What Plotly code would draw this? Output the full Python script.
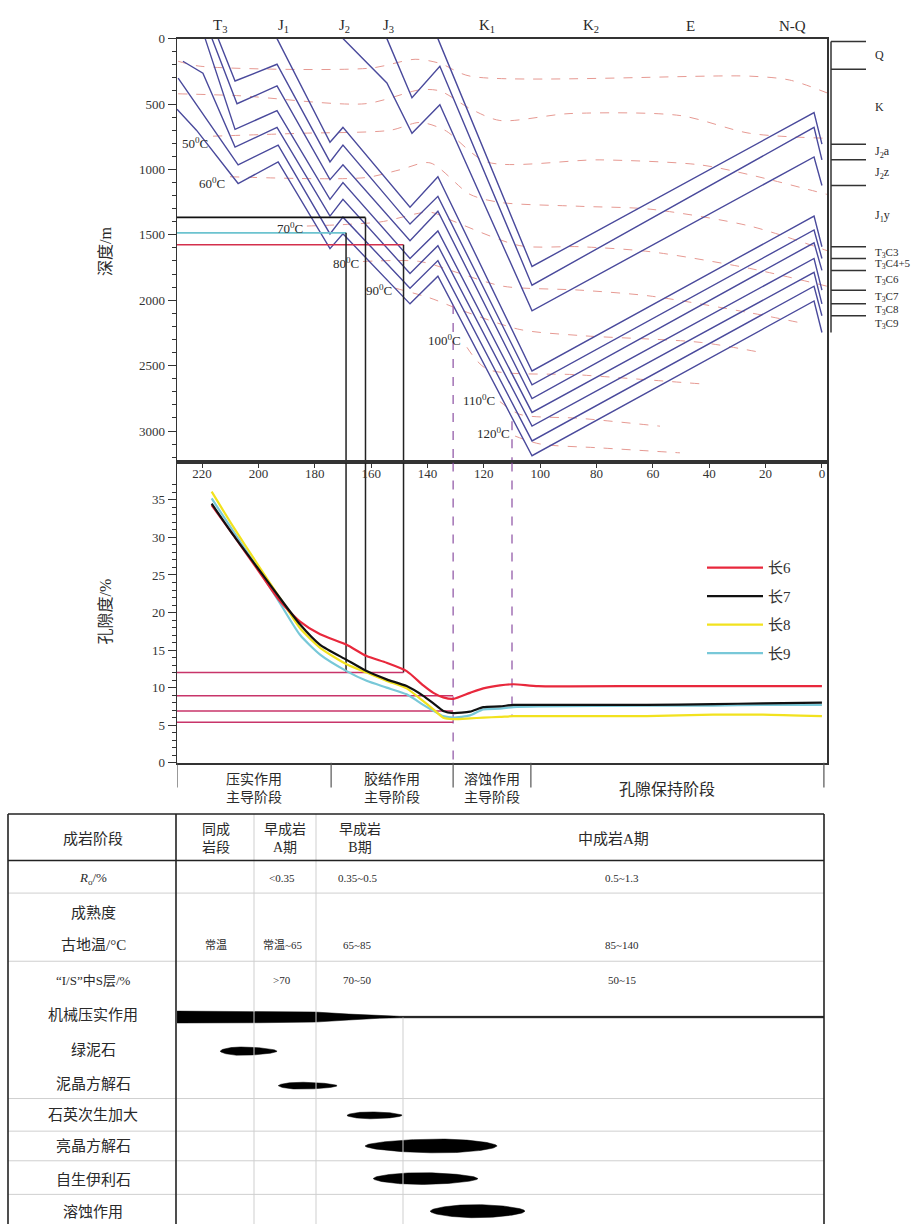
import numpy as np
import plotly.graph_objects as go

W, H = 915, 1232
SERIF = "Liberation Serif, Noto Sans CJK SC, serif"

# ---------------- data ----------------
period_labels = ["T<sub>3</sub>", "J<sub>1</sub>", "J<sub>2</sub>", "J<sub>3</sub>",
                 "K<sub>1</sub>", "K<sub>2</sub>", "E", "N-Q"]
period_mid_ma = [213.6, 191.0, 169.6, 154.0, 119.0, 82.0, 46.5, 10.6]
age_range = [228.9, -1.8]
depth_range = [3240, 0]
por_range = [0, 40.0]
age_ticks = [220, 200, 180, 160, 140, 120, 100, 80, 60, 40, 20, 0]

# burial history (age Ma, depth m) of each horizon
bur_J2a_age = [136.3, 102.9, 2.8, 0.0]
bur_J2a_dep = [0, 1742, 566, 807]
bur_J2z_age = [154.4, 145.5, 135.6, 102.9, 2.8, 0.0]
bur_J2z_dep = [0, 452, 211, 1885, 679, 927]
bur_J1y_age = [170.0, 154.4, 145.5, 135.6, 102.9, 2.8, 0.0]
bur_J1y_dep = [0, 339, 724, 505, 2081, 905, 1123]
bur_C3_age = [193.4, 174.6, 170.0, 146.2, 136.3, 102.9, 2.8, 0.0]
bur_C3_dep = [0, 792, 679, 1289, 1056, 2541, 1357, 1591]
bur_C45_age = [214.3, 208.3, 193.4, 174.6, 170.0, 146.2, 136.3, 102.9, 2.8, 0.0]
bur_C45_dep = [0, 324, 196, 943, 814, 1418, 1206, 2647, 1463, 1681]
bur_C6_age = [216.5, 207.6, 193.4, 174.6, 170.0, 146.2, 136.3, 102.9, 2.8, 0.0]
bur_C6_dep = [0, 498, 362, 1078, 965, 1546, 1320, 2752, 1561, 1772]
bur_C7_age = [218.9, 208.3, 193.4, 174.6, 170.0, 146.2, 136.3, 102.9, 2.8, 0.0]
bur_C7_dep = [0, 694, 550, 1229, 1101, 1681, 1470, 2858, 1681, 1923]
bur_C8_age = [226.8, 219.7, 208.3, 193.4, 174.6, 170.0, 146.2, 136.3, 102.9, 2.8, 0.0]
bur_C8_dep = [173, 264, 829, 679, 1357, 1229, 1795, 1583, 2963, 1787, 2028]
bur_C9_age = [228.5, 222.5, 207.2, 193.0, 174.6, 170.0, 146.2, 136.3, 102.9, 2.8, 0.0]
bur_C9_dep = [302, 490, 965, 814, 1493, 1365, 1908, 1697, 3076, 1893, 2119]
bur_base_age = [228.9, 222.0, 207.2, 193.0, 174.6, 170.0, 146.2, 136.3, 102.9, 2.8, 0.0]
bur_base_dep = [540, 700, 1108, 943, 1606, 1493, 2028, 1817, 3189, 2006, 2247]

# isotherms (age Ma, depth m)
iso30_age = [228.5, 220.7, 160.4, 144.4, 135.6, 124.9, 25.6, 11.4, -1.8]
iso30_dep = [173, 211, 226, 158, 189, 287, 287, 317, 415]
iso40_age = [228.5, 206.5, 162.2, 142.7, 135.6, 124.9, 114.3, 89.4, 50.4, 25.6, -1.8]
iso40_dep = [422, 437, 498, 392, 400, 535, 626, 573, 588, 724, 762]
iso50_age = [216.1, 185.2, 153.3, 142.7, 133.8, 118.9, 78.8, 43.3, 25.6, -1.8]
iso50_dep = [746, 724, 701, 641, 701, 943, 927, 965, 1041, 1191]
iso60_age = [210.1, 162.2, 149.8, 139.1, 124.9, 114.3, 85.9, 61.0, 25.6, -1.8]
iso60_dep = [1056, 1063, 1003, 950, 1191, 1252, 1282, 1304, 1433, 1621]
iso70_age = [182.8, 156.9, 139.1, 130.9, 107.2, 85.9, 61.0, 25.6, -1.8]
iso70_dep = [1433, 1402, 1327, 1395, 1583, 1591, 1629, 1757, 1893]
iso80_age = [162.9, 142.7, 128.5, 113.2, 85.9, 61.0, 25.6, 7.8]
iso80_dep = [1704, 1704, 1795, 1893, 1923, 1968, 2096, 2172]
iso90_age = [151.5, 139.1, 127.4, 107.2, 85.9, 43.3, 22.0]
iso90_dep = [1908, 1983, 2081, 2224, 2270, 2322, 2398]
iso100_age = [126.0, 118.9, 85.9, 43.3]
iso100_dep = [2360, 2526, 2571, 2639]
iso110_age = [114.3, 107.2, 85.9, 57.5]
iso110_dep = [2775, 2873, 2903, 2963]
iso120_age = [108.9, 100.1, 78.8, 50.4]
iso120_dep = [3039, 3099, 3129, 3167]

iso_label_text = ["50<sup>0</sup>C", "60<sup>0</sup>C", "70<sup>0</sup>C", "80<sup>0</sup>C",
                  "90<sup>0</sup>C", "100<sup>0</sup>C", "110<sup>0</sup>C", "120<sup>0</sup>C"]
iso_label_age = [222.5, 216.5, 188.8, 168.9, 157.2, 133.8, 121.7, 116.4]
iso_label_dep = [799, 1101, 1448, 1719, 1923, 2307, 2760, 3016]

# present-day formation tops (m)
formation_names = ["Q", "K", "J<sub>2</sub>a", "J<sub>2</sub>z", "J<sub>1</sub>y", "T<sub>3</sub>C3",
                   "T<sub>3</sub>C4+5", "T<sub>3</sub>C6", "T<sub>3</sub>C7", "T<sub>3</sub>C8", "T<sub>3</sub>C9"]
formation_tops = [23, 234, 807, 927, 1123, 1591, 1681, 1772, 1923, 2028, 2119]
formation_base = 2247

# end of compaction markers: burial depth (m), age (Ma)
marker_depth = [1367, 1485, 1576]
marker_age = [162.0, 168.9, 148.5]
marker_por = 12.0

# porosity thresholds (%), and age they are drawn to
por_cut_value = [12.0, 8.9, 6.9, 5.4]
por_cut_age = [148.5, 130.9, 130.9, 130.9]

# dashed event lines
event_age = [130.9, 110.0]
event_top_depth = [2036, 2925]
event_por_bottom = [0.0, 6.2]

# porosity evolution (age Ma, porosity %)
por_age = [216.6, 208.9, 200.6, 192.3, 185.2, 178.1, 168.7, 161.6, 154.5, 147.4, 141.5, 137.9,
           134.4, 130.8, 124.9, 120.2, 114.3, 109.5, 100.7, 62.2, 38.6, 20.9, 0.0]
por_chang6 = [34.3, 30.3, 25.9, 21.5, 18.8, 17.1, 15.7, 14.2, 13.3, 12.2, 10.3, 9.3,
              8.7, 8.5, 9.3, 9.9, 10.3, 10.45, 10.2, 10.2, 10.2, 10.2, 10.2]
por_chang7 = [34.5, 30.3, 26.1, 21.9, 18.4, 15.7, 13.7, 12.2, 11.1, 10.2, 8.9, 7.9,
              6.9, 6.6, 6.8, 7.4, 7.5, 7.7, 7.7, 7.7, 7.8, 7.9, 8.0]
por_chang8 = [36.1, 31.4, 26.6, 21.9, 17.9, 15.3, 13.1, 12.0, 10.9, 9.9, 8.2, 7.1,
              6.0, 5.8, 5.9, 6.0, 6.1, 6.2, 6.2, 6.2, 6.4, 6.4, 6.2]
por_chang9 = [35.2, 30.8, 26.1, 21.2, 17.0, 14.4, 12.2, 10.9, 10.0, 9.1, 7.7, 6.9,
              6.2, 6.0, 6.3, 7.1, 7.2, 7.4, 7.5, 7.6, 7.6, 7.7, 7.7]
por_names = ["长6", "长7", "长8", "长9"]

# porosity evolution stages (boundary ages)
stage_bounds = [228.9, 174.2, 130.9, 103.3, -0.7]
stage_names = ["压实作用<br>主导阶段", "胶结作用<br>主导阶段", "溶蚀作用<br>主导阶段", "孔隙保持阶段"]
stage_label_age = [201.5, 152.5, 117.1, 55.0]

# diagenetic table
table_rows = ["成岩阶段", "<i>R</i><sub>o</sub>/%", "成熟度", "古地温/°C", "“I/S”中S层/%", "机械压实作用",
              "绿泥石", "泥晶方解石", "石英次生加大", "亮晶方解石", "自生伊利石", "溶蚀作用"]
stage_cols = ["同成<br>岩段", "早成岩<br>A期", "早成岩<br>B期", "中成岩A期"]
ro_values = ["", "<0.35", "0.35~0.5", "0.5~1.3"]
temp_values = ["常温", "常温~65", "65~85", "85~140"]
is_values = ["", ">70", "70~50", "50~15"]

comp_age = [228.9, 200.0, 180.0, 168.0, 157.0, 150.0, -0.7]
comp_intensity = [1.0, 0.96, 0.85, 0.5, 0.2, 0.13, 0.13]
lens_names = ["绿泥石", "泥晶方解石", "石英次生加大", "亮晶方解石", "自生伊利石", "溶蚀作用"]
lens_start = [213.6, 193.0, 168.6, 162.2, 159.3, 139.1]
lens_end = [193.4, 172.1, 149.0, 115.3, 122.1, 105.4]
lens_peak = [206.5, 185.2, 160.4, 135.6, 142.7, 123.1]
lens_intensity = [0.6, 0.5, 0.5, 1.0, 0.85, 0.95]

# ---------------- helpers (layout only) ----------------
def fx(p):
    return p / W


def fy(p):
    return 1 - p / H


BLUE = "#4a4a9c"
ISO = "#e69992"
fig = go.Figure()

burials = [(bur_J2a_age, bur_J2a_dep), (bur_J2z_age, bur_J2z_dep), (bur_J1y_age, bur_J1y_dep),
           (bur_C3_age, bur_C3_dep), (bur_C45_age, bur_C45_dep), (bur_C6_age, bur_C6_dep),
           (bur_C7_age, bur_C7_dep), (bur_C8_age, bur_C8_dep), (bur_C9_age, bur_C9_dep),
           (bur_base_age, bur_base_dep)]
isos = [(iso30_age, iso30_dep), (iso40_age, iso40_dep), (iso50_age, iso50_dep), (iso60_age, iso60_dep),
        (iso70_age, iso70_dep), (iso80_age, iso80_dep), (iso90_age, iso90_dep), (iso100_age, iso100_dep),
        (iso110_age, iso110_dep), (iso120_age, iso120_dep)]

for a, d in isos:
    fig.add_trace(go.Scatter(x=a, y=d, mode="lines", line=dict(color=ISO, width=1, dash="dash", shape="spline", smoothing=0.8),
                             showlegend=False, hoverinfo="skip", xaxis="x", yaxis="y"))
for a, d in burials:
    fig.add_trace(go.Scatter(x=a, y=d, mode="lines", line=dict(color=BLUE, width=1.4),
                             showlegend=False, hoverinfo="skip", xaxis="x", yaxis="y"))

# end-of-compaction markers
marker_colors = ["#111111", "#6cc3cf", "#d4304c"]
for dep, age, col in zip(marker_depth, marker_age, marker_colors):
    fig.add_trace(go.Scatter(x=[age_range[0], age], y=[dep, dep], mode="lines", line=dict(color=col, width=1.6),
                             showlegend=False, hoverinfo="skip", xaxis="x", yaxis="y"))
for dep, age in zip(marker_depth, marker_age):
    fig.add_trace(go.Scatter(x=[age, age], y=[dep, depth_range[0]], mode="lines", line=dict(color="#222", width=1.5),
                             showlegend=False, hoverinfo="skip", xaxis="x", yaxis="y"))
    fig.add_trace(go.Scatter(x=[age, age], y=[por_range[1], marker_por], mode="lines", line=dict(color="#222", width=1.5),
                             showlegend=False, hoverinfo="skip", xaxis="x2", yaxis="y2"))

# dashed event lines
for age, dtop, pbot in zip(event_age, event_top_depth, event_por_bottom):
    fig.add_trace(go.Scatter(x=[age, age], y=[dtop, depth_range[0]], mode="lines",
                             line=dict(color="#8a4ea2", width=1.2, dash="dash"),
                             showlegend=False, hoverinfo="skip", xaxis="x", yaxis="y"))
    fig.add_trace(go.Scatter(x=[age, age], y=[por_range[1], pbot], mode="lines",
                             line=dict(color="#8a4ea2", width=1.2, dash="dash"),
                             showlegend=False, hoverinfo="skip", xaxis="x2", yaxis="y2"))

# porosity thresholds
for v, a in zip(por_cut_value, por_cut_age):
    fig.add_trace(go.Scatter(x=[age_range[0], a], y=[v, v], mode="lines", line=dict(color="#c8346a", width=1.5),
                             showlegend=False, hoverinfo="skip", xaxis="x2", yaxis="y2"))

# porosity curves
por_colors = ["#e8283c", "#111111", "#f2e21e", "#78c8d8"]
por_series = [por_chang6, por_chang7, por_chang8, por_chang9]
draw_order = [3, 2, 0, 1]
for i in draw_order:
    fig.add_trace(go.Scatter(x=por_age, y=por_series[i], mode="lines", name=por_names[i],
                             line=dict(color=por_colors[i], width=2.2, shape="spline", smoothing=0.6),
                             legendgroup=por_names[i], legendrank=i + 1, showlegend=True,
                             hoverinfo="skip", xaxis="x2", yaxis="y2"))

# diagenesis table lenses
ROW_Y = {"机械压实作用": 205.5, "绿泥石": 240, "泥晶方解石": 275, "石英次生加大": 305,
         "亮晶方解石": 336, "自生伊利石": 369, "溶蚀作用": 402}
MAX_T = 14.0
ca = np.array(comp_age)
ci = np.array(comp_intensity) * 12.0
cy = ROW_Y["机械压实作用"]
fig.add_trace(go.Scatter(x=np.concatenate([ca, ca[::-1]]), y=np.concatenate([cy - ci / 2, (cy + ci / 2)[::-1]]),
                         mode="lines", fill="toself", fillcolor="#000", line=dict(color="#000", width=0.5),
                         showlegend=False, hoverinfo="skip", xaxis="x3", yaxis="y3"))
for nm, t0, t1, tp, it in zip(lens_names, lens_start, lens_end, lens_peak, lens_intensity):
    u = np.linspace(0, 1, 80)
    t = t0 + (t1 - t0) * u
    up = (tp - t0) / (t1 - t0)
    s = np.where(u < up, 0.5 * u / up, 0.5 + 0.5 * (u - up) / (1 - up))
    h = it * MAX_T / 2 * np.sin(np.pi * s) ** 0.55
    c = ROW_Y[nm]
    fig.add_trace(go.Scatter(x=np.concatenate([t, t[::-1]]), y=np.concatenate([c - h, (c + h)[::-1]]),
                             mode="lines", fill="toself", fillcolor="#000", line=dict(color="#000", width=0.5),
                             showlegend=False, hoverinfo="skip", xaxis="x3", yaxis="y3"))

shapes = []
ann = []


def note(x, y, text, size, xref="paper", yref="paper", xanchor="center", **kw):
    ann.append(dict(x=x, y=y, xref=xref, yref=yref, text=text, showarrow=False, xanchor=xanchor,
                    yanchor="middle", font=dict(family=SERIF, size=size, color="#2a2a2a"), **kw))


# period labels
for lab, a in zip(period_labels, period_mid_ma):
    note(a, fy(19), lab, 15, xref="x")

# isotherm labels
for lab, a, d in zip(iso_label_text, iso_label_age, iso_label_dep):
    note(a, d, lab, 13, xref="x", yref="y")

# formation bar on the right
shapes.append(dict(type="line", xref="paper", yref="y", x0=fx(831), x1=fx(831), y0=formation_tops[0],
                   y1=formation_base, line=dict(color="#333", width=1.5)))
for top in formation_tops:
    shapes.append(dict(type="line", xref="paper", yref="y", x0=fx(831), x1=fx(866), y0=top, y1=top,
                       line=dict(color="#333", width=1.5)))
bounds = formation_tops + [formation_base]
for i, nm in enumerate(formation_names):
    mid = (bounds[i] + bounds[i + 1]) / 2
    note(fx(873), mid, nm, 11 if i >= 5 else 12, yref="y", xanchor="left")

# axis titles
note(fx(106), fy(248), "深度/m", 16, textangle=-90)
note(fx(106), fy(612), "孔隙度/%", 16, textangle=-90)

# stages below porosity
for b in stage_bounds:
    shapes.append(dict(type="line", xref="x2", yref="paper", x0=b, x1=b, y0=fy(765), y1=fy(790),
                       line=dict(color="#555", width=1.2)))
for nm, a in zip(stage_names, stage_label_age):
    one = "<br>" not in nm
    note(a, fy(792 if one else 791), nm, 16 if one else 14, xref="x2")

# table frame
TOP, BOT, L, R = 817, 1232, 8, 824
DARK = dict(color="#222", width=1.6)
LIGHT = dict(color="#cfcfcf", width=1)


def pline(x0, y0, x1, y1, ln):
    shapes.append(dict(type="line", xref="paper", yref="paper", x0=fx(x0), x1=fx(x1), y0=fy(y0), y1=fy(y1), line=ln))


for yy in [897, 966, 1105, 1138, 1168, 1202]:
    pline(L, yy, R, yy, LIGHT)
for xx in [254, 316]:
    pline(xx, TOP, xx, BOT, LIGHT)
pline(403, 1023, 403, BOT, LIGHT)
pline(L, TOP, R, TOP, DARK)
pline(L, 864, R, 864, DARK)
pline(L, TOP, L, BOT, DARK)
pline(R, TOP, R, BOT, DARK)
pline(176, TOP, 176, BOT, DARK)

row_y = [842, 882, 917, 950, 985, 1020, 1056, 1090, 1121, 1153, 1187, 1220]
for nm, yy in zip(table_rows, row_y):
    sz = 13 if ("R" in nm or "I/S" in nm) else 15
    note(fx(93), fy(yy), nm, sz)

col_x = [216, 285, 360, 613]
for nm, xx in zip(stage_cols, col_x):
    note(fx(xx), fy(842), nm, 14 if "<br>" in nm else 15)
val_x = [216, 282, 357, 622]
for vals, yy in [(ro_values, 882), (temp_values, 950), (is_values, 985)]:
    for v, xx in zip(vals, val_x):
        if v:
            note(fx(xx), fy(yy), v, 11)

axfont = dict(family=SERIF, size=13, color="#333")
fig.update_layout(
    width=W, height=H, margin=dict(l=0, r=0, t=0, b=0),
    paper_bgcolor="white", plot_bgcolor="rgba(0,0,0,0)",
    shapes=shapes, annotations=ann,
    legend=dict(x=fx(702), y=fy(551), xanchor="left", yanchor="top", font=dict(family=SERIF, size=15, color="#333"),
                itemwidth=56, tracegroupgap=6, bgcolor="rgba(0,0,0,0)", traceorder="grouped"),
    xaxis=dict(domain=[fx(177), fx(827)], range=age_range, showticklabels=False, ticks="", showgrid=False,
               zeroline=False, showline=True, linecolor="#333", linewidth=2, mirror=True, anchor="y"),
    yaxis=dict(domain=[fy(461), fy(32)], range=depth_range, tickvals=[0, 500, 1000, 1500, 2000, 2500, 3000],
               ticks="outside", ticklen=8, tickcolor="#333", tickfont=axfont, showgrid=False, zeroline=False,
               minor=dict(dtick=100, tick0=0, ticks="outside", ticklen=4, tickcolor="#333", showgrid=False),
               showline=True, linecolor="#333", linewidth=1.5, mirror=True, anchor="x"),
    xaxis2=dict(domain=[fx(177), fx(827)], range=age_range, side="top", ticks="inside", ticklen=6,
                tickcolor="#333", ticklabelposition="inside", tickvals=age_ticks, tickfont=axfont,
                showgrid=False, zeroline=False, showline=True, linecolor="#333", linewidth=2, mirror=True,
                anchor="y2"),
    yaxis2=dict(domain=[fy(765), fy(461)], range=por_range, tickvals=[0, 5, 10, 15, 20, 25, 30, 35],
                ticks="outside", ticklen=8, tickcolor="#333", tickfont=axfont, showgrid=False, zeroline=False,
                minor=dict(dtick=1, tick0=0, ticks="outside", ticklen=4, tickcolor="#333", showgrid=False),
                showline=True, linecolor="#333", linewidth=1.5, mirror=True, anchor="x2"),
    xaxis3=dict(domain=[fx(L), fx(R)], range=[288.9, -0.71], visible=False, anchor="y3"),
    yaxis3=dict(domain=[0, fy(TOP)], range=[BOT - TOP, 0], visible=False, anchor="x3"),
)

fig.write_html("out.html", config={"displayModeBar": False, "staticPlot": True},
               post_script="document.body.style.margin='0';document.body.style.padding='0';"
                           "document.documentElement.style.overflow='hidden';")
